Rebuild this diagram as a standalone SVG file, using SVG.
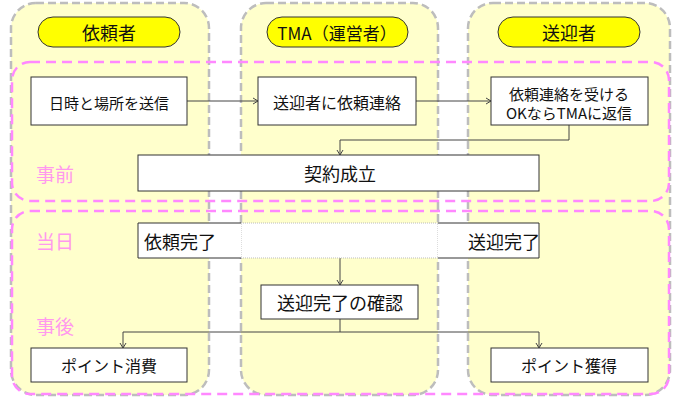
<svg xmlns="http://www.w3.org/2000/svg" width="685" height="398" viewBox="0 0 685 398">
<style>
.col{fill:#FFFFCC;stroke:#BDBDBD;stroke-width:2.5;stroke-dasharray:8 4}
.phase{fill:none;stroke:#FF88FF;stroke-width:2.5;stroke-dasharray:10 6}
.pill{fill:#FFFF00;stroke:#333;stroke-width:1}
.box{fill:#fff;stroke:#333;stroke-width:1}
.t{font-family:"Noto Sans CJK JP","Liberation Sans",sans-serif;fill:#111;text-anchor:middle;dominant-baseline:central}
.pl{font-family:"Noto Sans CJK JP","Liberation Sans",sans-serif;fill:#FF99EE;font-size:19px;dominant-baseline:central}
.ln{fill:none;stroke:#444;stroke-width:1}
</style>
<defs>
<marker id="ah" markerWidth="8" markerHeight="8" refX="6" refY="4" orient="auto" markerUnits="userSpaceOnUse">
<path d="M1,1 L6,4 L1,7" fill="none" stroke="#444" stroke-width="1"/>
</marker>
</defs>
<g id="lane-requester"><rect class="col" x="11" y="3" width="198" height="392" rx="25"/>
<rect class="pill" x="38" y="17" width="142" height="30" rx="15"/><text class="t" x="109" y="32" font-size="18">依頼者</text></g>
<g id="lane-tma"><rect class="col" x="241" y="3" width="197" height="392" rx="25"/>
<rect class="pill" x="267" y="17" width="141" height="30" rx="15"/><text class="t" x="337" y="32" font-size="17">TMA（運営者）</text></g>
<g id="lane-driver"><rect class="col" x="468" y="3" width="202" height="392" rx="25"/>
<rect class="pill" x="498" y="17" width="142" height="30" rx="15"/><text class="t" x="569" y="32" font-size="18">送迎者</text></g>
<g id="phase-before"><rect class="phase" x="12" y="62" width="657" height="139" rx="18"/><text class="pl" x="36" y="173">事前</text></g>
<g id="phase-day"><rect class="phase" x="12" y="211" width="657" height="183" rx="18"/><text class="pl" x="36" y="240">当日</text><text class="pl" x="36" y="325">事後</text></g>
<g id="connectors">
<path class="ln" d="M187,101 H258" marker-end="url(#ah)"/>
<path class="ln" d="M416,101 H491" marker-end="url(#ah)"/>
<path class="ln" d="M569,125 V140 H340 V155" marker-end="url(#ah)"/>
<path class="ln" d="M340,258 V285" marker-end="url(#ah)"/>
<path class="ln" d="M340,319 V332"/>
<path class="ln" d="M340,332 H123 V348" marker-end="url(#ah)"/>
<path class="ln" d="M340,332 H539 V348" marker-end="url(#ah)"/>
</g>
<g id="n-send"><rect class="box" x="31" y="77" width="156" height="48"/><text class="t" x="109" y="102" font-size="15">日時と場所を送信</text></g>
<g id="n-request"><rect class="box" x="258" y="77" width="158" height="48"/><text class="t" x="337" y="102" font-size="16">送迎者に依頼連絡</text></g>
<g id="n-reply"><rect class="box" x="491" y="77" width="157" height="48"/><text class="t" x="569" y="93" font-size="15">依頼連絡を受ける</text><text class="t" x="569" y="112" font-size="15">OKならTMAに返信</text></g>
<g id="n-contract"><rect class="box" x="138" y="155" width="401" height="36"/><text class="t" x="340" y="173" font-size="18">契約成立</text></g>
<g id="n-day"><rect x="241" y="223" width="197" height="35" fill="#fff" stroke="#BBB" stroke-width="1" stroke-dasharray="1 1"/>
<path d="M241,223 H138 V258 H241" fill="#fff" stroke="#333" stroke-width="1"/>
<path d="M438,223 H539 V258 H438" fill="#fff" stroke="#333" stroke-width="1"/>
<text class="t" x="144" y="241" font-size="18" text-anchor="start" style="text-anchor:start">依頼完了</text>
<text class="t" x="540" y="241" font-size="18" style="text-anchor:end">送迎完了</text></g>
<g id="n-confirm"><rect class="box" x="261" y="285" width="157" height="34"/><text class="t" x="340" y="302" font-size="18">送迎完了の確認</text></g>
<g id="n-use"><rect class="box" x="31" y="348" width="156" height="34"/><text class="t" x="109" y="365" font-size="16">ポイント消費</text></g>
<g id="n-earn"><rect class="box" x="491" y="348" width="157" height="34"/><text class="t" x="569" y="365" font-size="16">ポイント獲得</text></g>
</svg>
